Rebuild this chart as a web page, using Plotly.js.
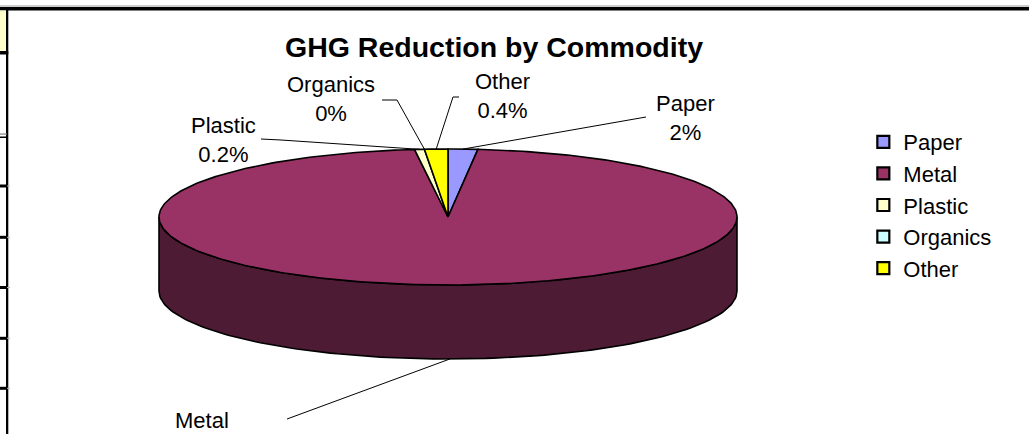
<!DOCTYPE html>
<html>
<head>
<meta charset="utf-8">
<script src="https://cdn.plot.ly/plotly-3.0.1.min.js"></script>
<style>html,body{margin:0;padding:0;background:#fff;}#chart{width:1029px;height:434px;}</style>
</head>
<body>
<div id="chart"></div>
<script>
// ---- data ----
const categories = ['Paper', 'Metal', 'Plastic', 'Organics', 'Other'];
const shares = [1.65, 96.5, 0.55, 0, 1.3];          // drawn slice shares (%)
const pctLabels = ['2%', '', '0.2%', '0%', '0.4%'];  // data label texts as printed
const chartTitle = 'GHG Reduction by Commodity';

// ---- style ----
const topColors = ['#9999FF', '#993366', '#FFFFCC', '#CCFFFF', '#FFFF00'];
const sideColors = ['#4D4D80', '#4E1B35', '#808066', '#668080', '#808000'];
const FONT = 'Liberation Sans, Arial, sans-serif';
const CX = 448, CY = 217, RX = 289, RY = 68, DEPTH = 74;
// label centres and leader-line bends (layout)
const labelPos = [[685, 117.5], [202, 420], [223, 139.5], [331, 99], [502, 96]];
const leaderBends = [[[646, 117]], [[287, 419]], [[261, 139], [281, 140]], [[382, 100], [397, 100]], [[459, 97], [453, 97]]];

function pt(theta, dy) {
  return [CX + RX * Math.sin(theta), CY - RY * Math.cos(theta) + dy];
}
function arc(a0, a1, dy, n) {
  const out = [];
  for (let i = 0; i <= n; i++) out.push(pt(a0 + (a1 - a0) * i / n, dy));
  return out;
}

const total = shares.reduce((a, b) => a + b, 0);
const traces = [];
const sideTraces = [];
const topTraces = [];
const annotations = [];
let cum = 0;
categories.forEach((cat, i) => {
  const a0 = cum / total * 2 * Math.PI;
  cum += shares[i];
  const a1 = cum / total * 2 * Math.PI;
  const mid = (a0 + a1) / 2;
  // side wall (front half only)
  const s0 = Math.max(a0, Math.PI / 2), s1 = Math.min(a1, 3 * Math.PI / 2);
  if (s1 > s0) {
    const pts = arc(s0, s1, 0, 120).concat(arc(s1, s0, DEPTH, 120));
    pts.push(pts[0]);
    sideTraces.push({
      type: 'scatter', mode: 'lines', x: pts.map(p => p[0]), y: pts.map(p => p[1]),
      fill: 'toself', fillcolor: sideColors[i], line: {color: '#000', width: 1.6},
      showlegend: false, hoverinfo: 'skip'
    });
  }
  // top face wedge
  if (a1 > a0) {
    const n = Math.max(4, Math.ceil((a1 - a0) / (2 * Math.PI) * 360));
    const pts = [[CX, CY]].concat(arc(a0, a1, 0, n));
    pts.push([CX, CY]);
    topTraces.push({
      type: 'scatter', mode: 'lines', x: pts.map(p => p[0]), y: pts.map(p => p[1]),
      fill: 'toself', fillcolor: topColors[i], line: {color: '#000', width: 1.6},
      showlegend: false, hoverinfo: 'text', text: cat
    });
  }
  // leader line
  const anchor = (cat === 'Metal') ? pt(mid, DEPTH) : pt(mid, 0);
  const lp = leaderBends[i].concat([anchor]);
  traces.push({
    type: 'scatter', mode: 'lines', x: lp.map(p => p[0]), y: lp.map(p => p[1]),
    line: {color: '#000', width: 1}, showlegend: false, hoverinfo: 'skip'
  });
  // data label
  annotations.push({
    x: labelPos[i][0], y: labelPos[i][1], xref: 'x', yref: 'y',
    text: pctLabels[i] ? cat + '<br>' + pctLabels[i] : cat,
    showarrow: false, xanchor: 'center', yanchor: 'middle',
    font: {family: FONT, size: 22, color: '#000'}
  });
});

// legend entries
const legendTraces = categories.map((cat, i) => ({
  type: 'scatter', mode: 'markers', x: [null], y: [null], name: cat,
  legendgroup: cat,
  marker: {symbol: 'square', size: 12, color: topColors[i], line: {color: '#000', width: 2.2}}
}));

// spreadsheet cell borders peeking around the chart
const shapes = [];
function rect(x0, y0, x1, y1, color) {
  shapes.push({type: 'rect', xref: 'x', yref: 'y', x0, y0, x1, y1, fillcolor: color, line: {width: 0}, layer: 'above'});
}
rect(0, 5.5, 1029, 6.5, '#999999');
rect(0, 7, 1029, 10.5, '#000000');
rect(0, 10.5, 6, 51, '#FFFFCC');
rect(6, 7, 8.3, 434, '#000000');
rect(0, 51, 8.3, 54.5, '#000000');
rect(0, 133.5, 7, 134.6, '#777777');
rect(0, 136.5, 7, 138, '#000000');
[184.5, 235.8, 286, 336.8, 386.8].forEach(y => {
  rect(0, y, 7, y + 3, '#000000');
  rect(7, y + 1, 10, y + 2, '#BBBBBB');
});

const layout = {
  width: 1029, height: 434,
  margin: {l: 0, r: 0, t: 0, b: 0},
  paper_bgcolor: '#ffffff', plot_bgcolor: '#ffffff',
  xaxis: {range: [0, 1029], visible: false, fixedrange: true},
  yaxis: {range: [434, 0], visible: false, fixedrange: true},
  title: {
    text: '<b>' + chartTitle + '</b>', x: 494 / 1029, xanchor: 'center',
    y: 1 - 47 / 434, yanchor: 'middle', yref: 'container',
    font: {family: FONT, size: 28.5, color: '#000'}
  },
  showlegend: true,
  legend: {
    x: 0.839, xanchor: 'left', y: 1 - 121 / 434, yanchor: 'top',
    font: {family: FONT, size: 22, color: '#000'},
    bgcolor: 'rgba(0,0,0,0)', itemwidth: 30, tracegroupgap: 2.2,
    traceorder: 'normal'
  },
  annotations: annotations,
  shapes: shapes
};

Plotly.newPlot('chart', sideTraces.concat(topTraces, traces, legendTraces), layout, {staticPlot: true, displayModeBar: false});
</script>
</body>
</html>
